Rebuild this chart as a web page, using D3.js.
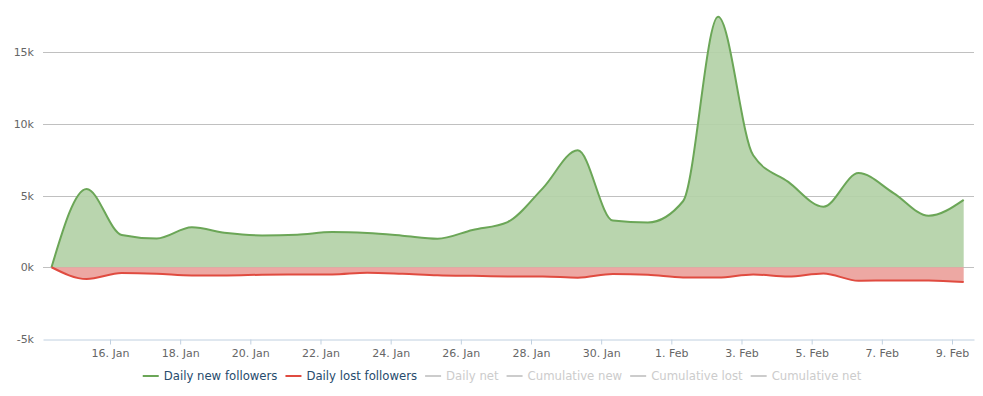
<!DOCTYPE html>
<html>
<head>
<meta charset="utf-8">
<script src="https://cdn.jsdelivr.net/npm/d3@7"></script>
<style>
  html, body { margin: 0; padding: 0; background: #fff; }
  svg { display: block; font-family: "Lucida Grande", "DejaVu Sans", sans-serif; }
</style>
</head>
<body>
<div id="chart"></div>
<script>
const dates = [
    "2014-01-14T08:00Z", "2014-01-15T08:00Z", "2014-01-16T08:00Z", "2014-01-17T08:00Z",
    "2014-01-18T08:00Z", "2014-01-19T08:00Z", "2014-01-20T08:00Z", "2014-01-21T08:00Z",
    "2014-01-22T08:00Z", "2014-01-23T08:00Z", "2014-01-24T08:00Z", "2014-01-25T08:00Z",
    "2014-01-26T08:00Z", "2014-01-27T08:00Z", "2014-01-28T08:00Z", "2014-01-29T08:00Z",
    "2014-01-30T08:00Z", "2014-01-31T08:00Z", "2014-02-01T08:00Z", "2014-02-02T08:00Z",
    "2014-02-03T08:00Z", "2014-02-04T08:00Z", "2014-02-05T08:00Z", "2014-02-06T08:00Z",
    "2014-02-07T08:00Z", "2014-02-08T08:00Z", "2014-02-09T08:00Z"
];
const newFollowers = [
    0, 5450, 2250, 2000, 2780, 2380, 2220, 2270, 2450, 2380, 2200, 1990, 2600, 3150,
    5500, 8150, 3250, 3120, 4600, 17450, 7800, 5950, 4220, 6560, 5170, 3590, 4700
];
const lostFollowers = [
    0, -820, -400, -450, -570, -570, -520, -500, -500, -380, -450, -550, -600, -640,
    -640, -730, -470, -520, -710, -710, -500, -640, -430, -940, -920, -920, -1030
];
const xTickDates = [
    "2014-01-16", "2014-01-18", "2014-01-20", "2014-01-22", "2014-01-24", "2014-01-26",
    "2014-01-28", "2014-01-30", "2014-02-01", "2014-02-03", "2014-02-05", "2014-02-07",
    "2014-02-09"
];
const yTicks = [-5000, 0, 5000, 10000, 15000];
const legendItems = [
    { name: "Daily new followers", color: "#6ba657", visible: true },
    { name: "Daily lost followers", color: "#e04b40", visible: true },
    { name: "Daily net", color: "#cccccc", visible: false },
    { name: "Cumulative new", color: "#cccccc", visible: false },
    { name: "Cumulative lost", color: "#cccccc", visible: false },
    { name: "Cumulative net", color: "#cccccc", visible: false }
];

const COLORS = {
    grid: "#c0c0c0",
    axis: "#c0d0e0",
    label: "#666666",
    legend: "#274b6d",
    legendHidden: "#cccccc",
    greenLine: "#6ba657",
    greenFill: "#b3d1a7",
    redLine: "#e04b40",
    redFill: "#eca19b"
};

const width = 983;
const height = 396;
const plot = { left: 43, right: 974, top: 52, bottom: 339 };

const svg = d3.select("#chart")
    .append("svg")
    .attr("width", width)
    .attr("height", height);

const parsed = dates.map((d) => new Date(d));
const x = d3.scaleUtc()
    .domain([new Date("2014-01-14T02:10Z"), new Date("2014-02-09T15:03Z")])
    .range([plot.left, plot.right]);
const y = d3.scaleLinear().domain([-5000, 15000]).range([plot.bottom, plot.top]);

// grid
svg.append("g")
    .selectAll("line")
    .data(yTicks.filter((v) => v !== -5000))
    .enter()
    .append("line")
    .attr("x1", plot.left)
    .attr("x2", plot.right)
    .attr("y1", (v) => Math.round(y(v)) + 0.5)
    .attr("y2", (v) => Math.round(y(v)) + 0.5)
    .attr("stroke", COLORS.grid)
    .attr("stroke-width", 1);

// y labels
svg.append("g")
    .selectAll("text")
    .data(yTicks)
    .enter()
    .append("text")
    .attr("x", 34)
    .attr("y", (v) => y(v) + 4)
    .attr("text-anchor", "end")
    .style("font-size", "11px")
    .style("fill", COLORS.label)
    .text((v) => `${v / 1000}k`);

// x axis
const xAxis = d3.axisBottom(x)
    .tickValues(xTickDates.map((d) => new Date(d + "T00:00Z")))
    .tickFormat(d3.utcFormat("%-d. %b"))
    .tickSize(5)
    .tickPadding(5)
    .tickSizeOuter(0);
svg.append("g")
    .attr("transform", `translate(0,${plot.bottom + 0.5})`)
    .call(xAxis)
    .call((g) => {
        g.select(".domain").attr("stroke", COLORS.axis);
        g.selectAll(".tick line").attr("stroke", COLORS.axis);
        g.selectAll(".tick text")
            .style("font-size", "11px")
            .style("font-family", "\"Lucida Grande\", \"DejaVu Sans\", sans-serif")
            .attr("fill", COLORS.label);
    });

const series = [
    { values: newFollowers, line: COLORS.greenLine, fill: COLORS.greenFill },
    { values: lostFollowers, line: COLORS.redLine, fill: COLORS.redFill }
];

series.forEach((s) => {
    const pts = s.values.map((v, i) => ({ t: parsed[i], v }));
    const area = d3.area()
        .x((d) => x(d.t))
        .y0(y(0))
        .y1((d) => y(d.v))
        .curve(d3.curveMonotoneX);
    const line = d3.line()
        .x((d) => x(d.t))
        .y((d) => y(d.v))
        .curve(d3.curveMonotoneX);
    svg.append("path")
        .datum(pts)
        .attr("d", area)
        .attr("fill", s.fill)
        .attr("fill-opacity", 0.92);
    svg.append("path")
        .datum(pts)
        .attr("d", line)
        .attr("fill", "none")
        .attr("stroke", s.line)
        .attr("stroke-width", 2)
        .attr("stroke-linejoin", "round");
});

// legend
const legendY = 376;
const legend = svg.append("g");
let cursor = 0;
legendItems.forEach((item) => {
    const g = legend.append("g").attr("transform", `translate(${cursor},0)`);
    g.append("line")
        .attr("x1", 0).attr("x2", 16)
        .attr("y1", legendY).attr("y2", legendY)
        .attr("stroke", item.color)
        .attr("stroke-width", 2);
    const t = g.append("text")
        .attr("x", 21)
        .attr("y", legendY + 4)
        .style("font-size", "11.7px")
        .style("fill", item.visible ? COLORS.legend : COLORS.legendHidden)
        .text(item.name);
    cursor += 21 + t.node().getComputedTextLength() + 8;
});
const legendWidth = cursor - 8;
legend.attr("transform", `translate(${502 - legendWidth / 2},0)`);
</script>
</body>
</html>
